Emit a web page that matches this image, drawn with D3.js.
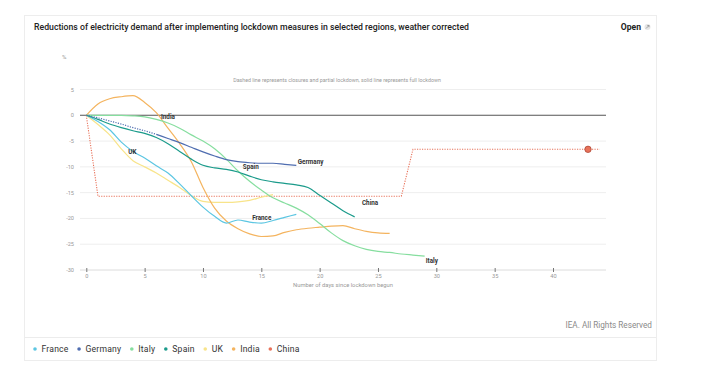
<!DOCTYPE html>
<html>
<head>
<meta charset="utf-8">
<script src="https://cdn.jsdelivr.net/npm/d3@7"></script>
<style>
  body { margin: 0; background: #fff; }
  svg { font-family: Roboto, "Open Sans", sans-serif; }
</style>
</head>
<body>
<div id="chart"></div>
<script>
// Values, % change by day since lockdown began
const france  = [0, -1.2, -2.8, -5.2, -7.0, -8.3, -9.8, -11.2, -13.3, -15.6, -17.8, -19.6, -20.9, -20.3, -20.7, -20.9, -20.4, -19.8, -19.2];
const germany = [0, -0.5, -1.1, -1.7, -2.4, -3.0, -3.7, -4.5, -5.3, -6.2, -7.1, -7.9, -8.6, -9.0, -9.2, -9.3, -9.3, -9.5, -9.7];
const italy   = [0, 0, 0, 0, -0.1, -0.3, -0.8, -1.5, -2.5, -3.8, -5.0, -6.5, -8.5, -10.8, -12.8, -14.5, -16.0, -17.0, -18.0, -19.3,
                 -21.0, -22.8, -24.3, -25.3, -26.0, -26.4, -26.6, -26.9, -27.1, -27.3];
const spain   = [0, -0.8, -1.7, -2.4, -3.0, -3.5, -4.3, -5.5, -7.0, -8.5, -9.7, -10.2, -10.5, -11.0, -11.8, -12.5, -12.9, -13.2,
                 -13.5, -14.0, -15.5, -17.0, -18.5, -19.7];
const uk      = [0, -1.8, -3.8, -6.5, -8.8, -10.0, -11.2, -12.6, -14.0, -15.6, -16.7, -16.9, -16.9, -16.8, -16.5, -15.9, -15.4];
const india   = [0, 2.2, 3.2, 3.6, 3.8, 2.5, 0.5, -2.5, -5.5, -9.0, -14.0, -18.0, -20.5, -22.0, -23.0, -23.5, -23.4, -22.7,
                 -22.2, -21.9, -21.7, -21.5, -21.4, -22.0, -22.5, -22.8, -22.9];
const chinaDays   = [0, 1, 27, 28, 44];
const chinaValues = [0, -15.7, -15.7, -6.6, -6.6];
const chinaMarkerDay = 43;
const germanyPartialUntil = 6; // closures / partial lockdown days (dotted)

const regions = ["France", "Germany", "Italy", "Spain", "UK", "India", "China"];
const xTicks = [0, 5, 10, 15, 20, 25, 30, 35, 40];
const yTicks = [5, 0, -5, -10, -15, -20, -25, -30];

const colors = {
  France: "#5cc6e2", Germany: "#4f6db0", Italy: "#86de9f", Spain: "#1b9b8b",
  UK: "#f8e48a", India: "#f4b45f", China: "#e8725a"
};

const W = 721, H = 377;
const svg = d3.select("#chart").append("svg")
  .attr("width", W).attr("height", H);

// card
svg.append("rect")
  .attr("x", 24.5).attr("y", 15.5).attr("width", 632).attr("height", 345)
  .attr("fill", "#fff").attr("stroke", "#ededed");

svg.append("text")
  .attr("x", 34).attr("y", 30)
  .attr("font-size", 8.7).attr("font-weight", 500).attr("fill", "#222")
  .attr("textLength", 435).attr("lengthAdjust", "spacing")
  .text("Reductions of electricity demand after implementing lockdown measures in selected regions, weather corrected");

svg.append("text")
  .attr("x", 641).attr("y", 30).attr("text-anchor", "end")
  .attr("font-size", 8.6).attr("font-weight", 700).attr("fill", "#222")
  .text("Open");
svg.append("circle").attr("cx", 647.5).attr("cy", 27).attr("r", 3).attr("fill", "#e6e6e6");
svg.append("path").attr("d", "M646,28.5 L649,25.5 M647.3,25.5 L649,25.5 L649,27.2")
  .attr("stroke", "#888").attr("stroke-width", 0.7).attr("fill", "none");

svg.append("text")
  .attr("x", 62).attr("y", 59)
  .attr("font-size", 6).attr("fill", "#999").text("%");

// scales
const x = d3.scaleLinear().domain([0, 40]).range([86.3, 553]);
const y = d3.scaleLinear().domain([-30, 5]).range([270, 89.5]);
const plotLeft = 80, plotRight = 606;

svg.append("text")
  .attr("x", 337).attr("y", 82).attr("text-anchor", "middle")
  .attr("font-size", 5.3).attr("fill", "#999")
  .text("Dashed line represents closures and partial lockdown, solid line represents full lockdown");

// grid
svg.append("g").selectAll("line").data(yTicks).join("line")
  .attr("x1", plotLeft).attr("x2", plotRight)
  .attr("y1", d => y(d)).attr("y2", d => y(d))
  .attr("stroke", d => d === 0 ? "#555" : (d === -30 ? "#dcdcdc" : "#eeeeee"))
  .attr("stroke-width", d => d === 0 ? 1.1 : 1);

svg.append("g").selectAll("text").data(yTicks).join("text")
  .attr("x", 74).attr("y", d => y(d) + 2)
  .attr("text-anchor", "end").attr("font-size", 5.6).attr("fill", "#999")
  .text(d => d);

// x axis
const xAxis = d3.axisBottom(x).tickValues(xTicks).tickSize(4).tickPadding(2);
const gx = svg.append("g").attr("transform", "translate(0," + (y(-30) - 2) + ")").call(xAxis);
gx.select(".domain").remove();
gx.selectAll(".tick line").attr("stroke", "#777");
gx.selectAll(".tick text").attr("font-size", 5.6).attr("fill", "#999").attr("font-family", "Roboto, sans-serif");

svg.append("text")
  .attr("x", 343).attr("y", 287).attr("text-anchor", "middle")
  .attr("font-size", 5.8).attr("fill", "#999")
  .text("Number of days since lockdown begun");

// lines
const line = d3.line()
  .x(d => x(d[0])).y(d => y(d[1]))
  .curve(d3.curveMonotoneX);

const series = { France: france, Germany: germany, Italy: italy, Spain: spain, UK: uk, India: india };
const order = ["UK", "India", "Italy", "France", "Spain", "Germany"];

// China, dotted
const chinaPts = chinaDays.map((d, i) => [d, chinaValues[i]]);
svg.append("path")
  .datum(chinaPts)
  .attr("fill", "none").attr("stroke", colors.China).attr("stroke-width", 1.1)
  .attr("stroke-dasharray", "1.2,1.3")
  .attr("d", d3.line().x(d => x(d[0])).y(d => y(d[1])));

order.forEach(name => {
  const pts = series[name].map((v, i) => [i, v]);
  if (name === "Germany") {
    svg.append("path").datum(pts.slice(0, germanyPartialUntil + 1))
      .attr("fill", "none").attr("stroke", colors[name]).attr("stroke-width", 1.2)
      .attr("stroke-dasharray", "1.2,1.3").attr("d", line);
    svg.append("path").datum(pts.slice(germanyPartialUntil))
      .attr("fill", "none").attr("stroke", colors[name]).attr("stroke-width", 1.2).attr("d", line);
  } else {
    svg.append("path").datum(pts)
      .attr("fill", "none").attr("stroke", colors[name]).attr("stroke-width", 1.2).attr("d", line);
  }
});

svg.append("circle")
  .attr("cx", x(chinaMarkerDay))
  .attr("cy", y(chinaValues[chinaValues.length - 1]))
  .attr("r", 3.2).attr("fill", colors.China).attr("stroke", "#b04a38").attr("stroke-width", 0.8);

// line labels, anchored at a point of each series with a small offset
const labelSpots = [
  { name: "India",   day: 6.4,  value: 0,     dx: 0,   dy: 4 },
  { name: "UK",      day: 3.6,  value: -6.5,  dx: 0,   dy: 5 },
  { name: "Germany", day: 18,   value: -9.7,  dx: 1.5, dy: -1 },
  { name: "Spain",   day: 13.5, value: -11.4, dx: -1,  dy: -5 },
  { name: "France",  day: 14.3, value: -20.7, dx: -1,  dy: -2 },
  { name: "China",   day: 23.5, value: -15.7, dx: 1.5, dy: 9 },
  { name: "Italy",   day: 29,   value: -27.3, dx: 1,   dy: 7 }
];
svg.append("g").selectAll("text").data(labelSpots).join("text")
  .attr("x", d => x(d.day) + d.dx).attr("y", d => y(d.value) + d.dy)
  .attr("font-size", 6.3).attr("font-weight", 700).attr("fill", "#333")
  .text(d => d.name);

svg.append("text")
  .attr("x", 652).attr("y", 328).attr("text-anchor", "end")
  .attr("font-size", 8.2).attr("fill", "#8a8a8a")
  .text("IEA. All Rights Reserved");

svg.append("line")
  .attr("x1", 24).attr("x2", 656).attr("y1", 337.5).attr("y2", 337.5)
  .attr("stroke", "#ececec");

// legend
const legend = svg.append("g").attr("transform", "translate(35,349)");
let lx = 0;
regions.forEach(name => {
  const g = legend.append("g").attr("transform", "translate(" + lx + ",0)");
  g.append("circle").attr("cx", 0).attr("cy", 0).attr("r", 1.8).attr("fill", colors[name]);
  const t = g.append("text").attr("x", 6.5).attr("y", 3)
    .attr("font-size", 8.6).attr("letter-spacing", 0.2).attr("fill", "#333").text(name);
  lx += 6.5 + t.node().getComputedTextLength() + 10.5;
});
</script>
</body>
</html>
